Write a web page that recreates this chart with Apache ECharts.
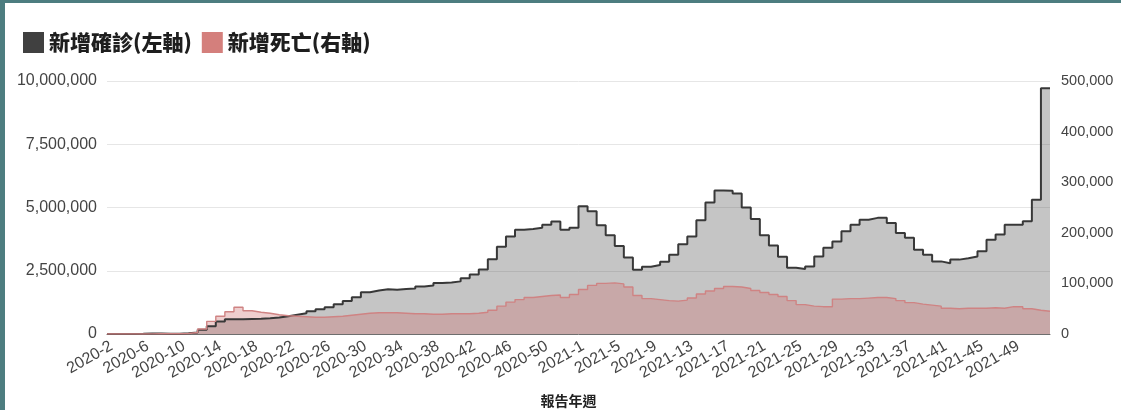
<!DOCTYPE html>
<html>
<head>
<meta charset="utf-8">
<script src="https://cdn.jsdelivr.net/npm/echarts@6/dist/echarts.min.js"></script>
<style>
html,body{margin:0;padding:0;background:#fff;}
#wrap{position:relative;width:1121px;height:410px;overflow:hidden;background:#fff;}
#chart{position:absolute;left:0;top:0;width:1121px;height:410px;}
#bl{position:absolute;left:0;top:0;width:5px;height:410px;background:#4d7d80;}
#bt{position:absolute;left:0;top:0;width:1121px;height:3px;background:#4d7d80;}
</style>
</head>
<body>
<div id="wrap"><div id="chart"></div><div id="bl"></div><div id="bt"></div></div>
<script>
// Category labels: report year-week, 2020-2 .. 2020-53, 2021-1 .. 2021-52
const weeks = [];
for (let w = 2; w <= 53; w++) weeks.push('2020-' + w);
for (let w = 1; w <= 52; w++) weeks.push('2021-' + w);

// New confirmed cases (left axis)
const confirmed = [
  0, 0, 2000, 10000, 20000, 20000, 10000, 10000, 30000, 60000,
  170000, 310000, 490000, 580000, 580000, 590000, 600000, 620000, 650000, 700000,
  760000, 820000, 900000, 980000, 1060000, 1180000, 1300000, 1450000, 1650000, 1720000,
  1770000, 1750000, 1780000, 1800000, 1880000, 1920000, 2020000, 2040000, 2080000, 2200000,
  2350000, 2550000, 2950000, 3450000, 3850000, 4120000, 4150000, 4200000, 4320000, 4450000,
  4120000, 4200000, 5050000, 4850000, 4300000, 3900000, 3480000, 3020000, 2540000, 2660000,
  2730000, 2860000, 3130000, 3550000, 3850000, 4500000, 5200000, 5670000, 5660000, 5550000,
  5000000, 4550000, 3900000, 3500000, 3050000, 2620000, 2570000, 2670000, 3060000, 3410000,
  3660000, 4060000, 4320000, 4520000, 4590000, 4590000, 4390000, 3990000, 3800000, 3330000,
  3130000, 2870000, 2800000, 2940000, 2990000, 3060000, 3270000, 3730000, 3930000, 4320000,
  4320000, 4460000, 5310000, 9710000
];

// New deaths (right axis)
const deaths = [
  0, 0, 0, 100, 300, 500, 600, 500, 1000, 3000,
  10000, 25000, 35000, 44000, 53000, 46000, 43000, 41000, 38000, 36000,
  35000, 34000, 33000, 33000, 34000, 35000, 37000, 39000, 41000, 42000,
  42000, 42000, 41000, 40000, 40000, 39000, 39000, 40000, 40000, 40000,
  41000, 43000, 47000, 55000, 63000, 68000, 72000, 74000, 76000, 77000,
  72000, 78000, 88000, 96000, 100000, 101000, 99000, 93000, 76000, 70000,
  68000, 66000, 65000, 67000, 71000, 79000, 85000, 90000, 94000, 93000,
  90000, 86000, 82000, 78000, 74000, 66000, 58000, 55000, 54000, 54000,
  69000, 70000, 70000, 71000, 72000, 72000, 70000, 66000, 62000, 59000,
  57000, 55000, 51000, 50000, 51000, 51000, 51000, 52000, 51000, 54000,
  54000, 50000, 47000, 45000
];

// Each week fills its whole category band: value starts at the band's left edge.
function bandSteps(vals) {
  const d = vals.map((v, i) => [i - 0.5, v]);
  d.push([vals.length - 0.5, vals[vals.length - 1]]);
  return d;
}
const fmt = v => Number(v).toLocaleString('en-US');
const FONT = '"Liberation Sans", Arial, sans-serif';
const CJK = '"Noto Sans CJK TC", "Noto Sans CJK SC", sans-serif';

const chart = echarts.init(document.getElementById('chart'), null, {renderer: 'canvas'});
chart.setOption({
  animation: false,
  backgroundColor: '#ffffff',
  legend: {
    left: 18, top: 27,
    itemWidth: 21, itemHeight: 21, itemGap: 10,
    icon: 'rect',
    textStyle: {fontFamily: CJK, fontWeight: 900, fontSize: 21, color: '#1e1e1e'},
    data: ['新增確診(左軸)', '新增死亡(右軸)']
  },
  grid: {left: 107, right: 71, top: 81, bottom: 76, containLabel: false, outerBoundsMode: 'none'},
  xAxis: [
    {
      type: 'category', data: weeks, boundaryGap: true,
      name: '報告年週', nameLocation: 'middle', nameGap: 60,
      nameTextStyle: {fontFamily: CJK, fontWeight: 'bold', fontSize: 14, color: '#222', padding: [0, 20, 0, 0]},
      axisTick: {show: false},
      axisLine: {show: true, lineStyle: {color: '#6e6e6e', width: 1}},
      axisLabel: {interval: 3, rotate: 30, fontFamily: FONT, fontSize: 16, color: '#444', margin: 11}
    },
    {type: 'value', min: -0.5, max: weeks.length - 0.5, show: false}
  ],
  yAxis: [
    {
      type: 'value', min: 0, max: 10000000, interval: 2500000,
      axisLine: {show: false}, axisTick: {show: false},
      splitLine: {lineStyle: {color: '#e6e6e6'}},
      axisLabel: {fontFamily: FONT, fontSize: 16, color: '#444', margin: 10, formatter: fmt}
    },
    {
      type: 'value', min: 0, max: 500000, interval: 100000,
      axisLine: {show: false}, axisTick: {show: false}, splitLine: {show: false},
      axisLabel: {fontFamily: FONT, fontSize: 14.5, color: '#444', margin: 11, formatter: fmt}
    }
  ],
  series: [
    {
      name: '新增確診(左軸)', type: 'line', xAxisIndex: 1, yAxisIndex: 0,
      step: 'end', showSymbol: false, symbol: 'none',
      data: bandSteps(confirmed),
      color: '#404040',
      lineStyle: {color: '#383838', width: 2},
      areaStyle: {color: '#444444', opacity: 0.31}
    },
    {
      name: '新增死亡(右軸)', type: 'line', xAxisIndex: 1, yAxisIndex: 1,
      step: 'end', showSymbol: false, symbol: 'none',
      data: bandSteps(deaths),
      color: '#d47f7c',
      lineStyle: {color: '#cf8383', width: 1.4},
      areaStyle: {color: '#cf7474', opacity: 0.35}
    }
  ]
});
</script>
</body>
</html>
